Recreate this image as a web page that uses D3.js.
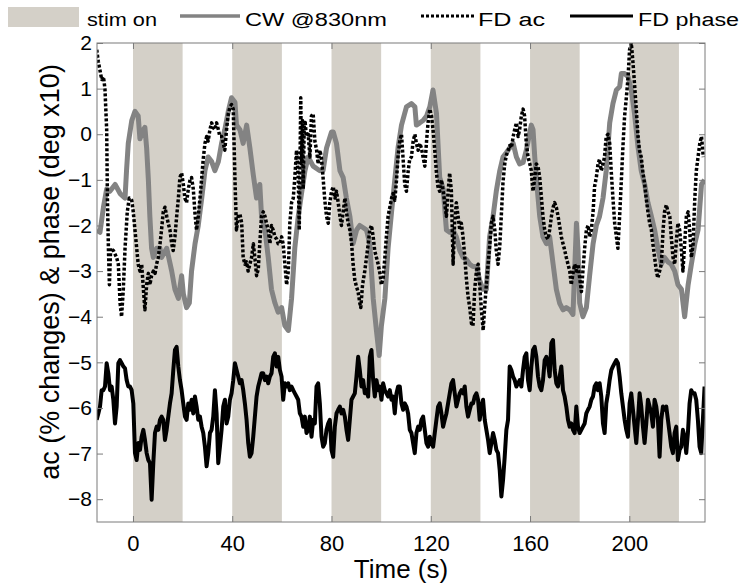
<!DOCTYPE html>
<html><head><meta charset="utf-8">
<script src="https://cdn.jsdelivr.net/npm/d3@7/dist/d3.min.js"></script>
<style>body{margin:0;background:#fff}svg{display:block}</style>
</head><body><svg id="c" width="744" height="588"></svg>
<script>
// ---------- data ----------
const stimStart = [0, 40, 80, 120, 160, 200];
const stimLength = 20;
const xTicks = [0, 40, 80, 120, 160, 200];
const yTicks = [-8, -7, -6, -5, -4, -3, -2, -1, 0, 1, 2];
const legendLabels = ["stim on", "CW @830nm", "FD ac", "FD phase"];

// CW @830nm  [time s, value]
const cwSeries = [[-14.6,-2.1],[-13.3,-2.15],[-11.9,-1.6],[-10.6,-1.2],[-9.3,-1.25],[-7.2,-1.1],[-5.2,-1.3],[-3.2,-1.4],[-2.6,-0.8],[-1.9,-0.2],[-0.5,0.3],[0.8,0.5],[2.1,0.4],[2.8,-0.1],[4.2,0.1],[4.8,0.15],[5.5,-0.3],[6.2,-1.0],[6.8,-1.8],[7.5,-2.5],[8.2,-2.7],[9.5,-2.5],[10.9,-2.5],[11.5,-2.7],[13.6,-2.5],[15.6,-3.0],[16.9,-3.4],[18.3,-3.6],[19.6,-3.1],[20.3,-3.5],[21.6,-3.8],[22.7,-3.7],[23.6,-3.0],[25,-2.4],[26.3,-2.0],[27.7,-1.4],[29,-0.8],[30.3,-0.5],[31.7,-0.6],[33,-0.8],[34.4,-0.6],[35.7,-0.2],[37,0.1],[38.4,0.5],[39.7,0.8],[41.1,0.7],[41.7,0.2],[43.1,0.1],[44.4,-0.2],[45.8,0.2],[47.1,-0.3],[48.5,-0.9],[49.8,-1.4],[51.1,-1.1],[51.8,-1.8],[53.2,-2.1],[54.5,-2.7],[55.8,-3.4],[57.2,-3.7],[58.5,-3.9],[59.9,-3.8],[61.2,-4.2],[62.6,-4.3],[63.9,-3.6],[65.2,-2.5],[66.6,-1.8],[67.9,-1.3],[69.3,-0.8],[70.6,-0.5],[72.6,-0.7],[75.3,-0.8],[76.6,-0.8],[78,-0.3],[80,0.05],[80.7,0.05],[82,-0.2],[83.4,-0.8],[84.7,-0.95],[86,-1.4],[87.4,-1.8],[88.7,-2.4],[90.1,-2.1],[91.4,-2.0],[92.8,-2.05],[94.1,-2.1],[95.4,-2.4],[96.8,-3.6],[98.1,-4.3],[99.2,-4.85],[100.1,-4.2],[101.5,-3.6],[102.8,-2.5],[104.2,-1.7],[105.5,-1.0],[106.8,-0.3],[108.2,0.2],[110.2,0.6],[112.2,0.67],[113.6,0.6],[114.2,0.2],[115.6,0.25],[116.9,0.3],[118.3,0.4],[119.6,0.6],[120.9,0.97],[122.3,0.45],[123.6,-0.95],[125,-1.2],[126.3,-2.1],[127.6,-2.15],[129,-2.1],[130.3,-2.25],[131.7,-2.55],[133,-2.7],[134.4,-2.75],[135.7,-2.85],[137,-2.9],[138.4,-2.9],[139.7,-3.2],[141,-3.4],[142.4,-3.4],[143.7,-2.25],[145.1,-1.8],[146.4,-1.25],[147.8,-0.8],[149.1,-0.5],[150.5,-0.4],[151.8,-0.3],[153.2,-0.2],[154.5,-0.5],[155.8,-0.65],[157.2,-0.62],[158.5,-0.35],[160.5,0.2],[161.2,0.1],[161.9,-0.5],[162.5,-0.95],[163.9,-1.8],[165.2,-2.25],[166.6,-2.4],[167.9,-2.25],[169.3,-2.85],[170.6,-3.4],[171.9,-3.7],[173.3,-3.85],[174.6,-3.8],[176,-3.85],[177.3,-3.95],[178.7,-1.95],[179.3,-2.5],[180,-3.7],[181.3,-4.0],[182.7,-3.8],[184,-3.1],[185.4,-2.4],[186.7,-2.0],[188,-1.8],[189.4,-1.4],[190.7,-0.8],[192.1,0.25],[193.4,0.67],[194.8,0.97],[196.1,1.04],[196.8,1.33],[198.1,1.33],[199.5,1.26],[200.8,0.97],[202.1,0.45],[203.5,-0.28],[204.8,-0.8],[206.2,-1.1],[207.5,-1.5],[208.9,-1.8],[210.2,-2.1],[211.5,-2.5],[212.9,-2.85],[214.2,-2.7],[215.6,-2.8],[216.9,-2.85],[218.3,-3.0],[219.6,-3.3],[221,-3.4],[222.3,-4.0],[223.7,-3.3],[225,-2.85],[226.4,-2.4],[227.7,-2.1],[229.1,-1.1],[230.3,-1.0]];

// FD ac  [time s, value]
const acSeries = [[-14.6,1.85],[-14.0,1.6],[-13.3,1.4],[-12.6,1.2],[-11.9,1.26],[-11.3,1.0],[-10.6,0.1],[-10.3,-1.4],[-9.9,-2.5],[-9.5,-3.3],[-9.0,-2.5],[-7.9,-2.55],[-6.6,-2.7],[-5.9,-2.85],[-5.2,-3.7],[-4.6,-4.0],[-3.9,-3.4],[-3.2,-2.5],[-2.3,-1.7],[-1.5,-1.4],[-0.5,-1.45],[0.1,-1.7],[0.8,-2.1],[1.5,-2.5],[2.1,-2.85],[2.8,-3.0],[3.5,-2.85],[4.2,-3.4],[4.8,-3.85],[5.5,-3.3],[6.2,-3.05],[6.8,-3.3],[7.5,-3.1],[8.2,-3.0],[8.9,-3.05],[9.5,-2.85],[10.2,-2.7],[10.9,-2.4],[11.5,-2.1],[12.2,-1.7],[12.9,-1.6],[13.6,-1.8],[14.2,-1.95],[14.9,-2.1],[15.6,-2.4],[16.2,-2.55],[16.9,-2.25],[17.6,-1.8],[18.3,-1.4],[18.9,-0.95],[19.6,-0.85],[20.3,-1.1],[20.9,-1.4],[21.6,-1.5],[22.3,-1.2],[23.0,-1.0],[23.6,-0.95],[24.3,-1.2],[25.0,-1.75],[25.6,-2.1],[26.3,-1.8],[27.0,-1.4],[27.7,-0.95],[28.3,-0.55],[29.0,-0.2],[29.7,-0.05],[30.3,-0.15],[31.0,0.1],[31.7,0.25],[32.3,0.15],[33.0,0.1],[33.7,0.25],[34.4,0.1],[35.0,-0.05],[35.7,-0.05],[36.4,-0.2],[37.0,-0.35],[37.7,0.1],[38.4,0.45],[39.1,0.6],[39.7,0.65],[40.4,0.55],[41.1,-1.0],[41.7,-2.1],[42.4,-1.8],[43.1,-1.75],[43.8,-1.95],[44.4,-2.7],[45.1,-2.85],[45.8,-2.8],[46.4,-3.0],[47.1,-2.85],[47.8,-2.7],[48.5,-2.4],[49.1,-2.7],[49.8,-3.1],[50.5,-2.95],[51.1,-2.4],[51.8,-1.8],[52.5,-1.7],[53.2,-1.8],[53.8,-1.95],[54.5,-2.1],[55.2,-2.4],[55.8,-2.0],[56.5,-2.1],[57.2,-2.25],[57.9,-2.3],[58.5,-2.4],[59.2,-2.4],[59.9,-2.25],[60.5,-2.4],[61.2,-2.85],[61.9,-3.3],[62.6,-3.0],[63.2,-1.95],[63.9,-1.5],[64.6,-1.4],[65.2,-0.95],[65.9,-0.35],[66.6,-0.95],[67.0,-2.1],[67.6,0.8],[67.9,-0.65],[68.3,0.3],[68.6,-1.2],[69.0,0.2],[69.3,0.3],[69.9,-0.05],[70.6,0.0],[71.3,-0.5],[71.9,0.4],[72.6,0.45],[73.3,-0.15],[74.0,-0.35],[74.6,-0.65],[75.3,-0.35],[75.9,-0.5],[76.6,-0.95],[77.3,-1.45],[78.0,-1.8],[78.7,-1.95],[79.3,-1.5],[80.0,-1.25],[80.7,-1.15],[81.4,-1.4],[82.0,-1.25],[82.7,-1.5],[83.4,-1.8],[84.0,-2.0],[84.7,-1.7],[85.4,-1.4],[86.0,-1.7],[86.7,-1.95],[87.4,-2.1],[88.1,-2.4],[88.7,-2.85],[89.4,-3.2],[90.1,-3.35],[90.7,-3.45],[91.4,-3.7],[91.8,-3.8],[92.5,-3.3],[93.4,-3.0],[94.1,-2.7],[94.8,-2.4],[95.4,-2.1],[96.1,-2.0],[96.8,-2.25],[97.4,-2.55],[98.1,-2.7],[98.8,-2.85],[99.5,-3.05],[100.1,-3.3],[100.8,-3.15],[101.5,-2.7],[102.1,-2.25],[102.8,-1.8],[103.5,-1.6],[104.2,-1.4],[104.8,-1.3],[105.5,-1.45],[106.2,-1.0],[106.8,-0.5],[107.5,-0.15],[108.2,0.0],[108.8,-0.5],[109.5,-1.1],[110.2,-1.25],[110.9,-0.8],[111.5,-0.55],[112.2,-0.5],[112.9,-0.15],[113.6,0.0],[114.2,-0.2],[114.9,-0.35],[115.6,-0.2],[116.2,-0.3],[116.9,-0.5],[117.6,-0.7],[118.3,-0.15],[118.9,0.25],[119.6,0.55],[120.3,0.4],[120.9,0.1],[121.6,-0.35],[122.3,-0.85],[122.9,-1.15],[123.6,-1.25],[124.3,-1.0],[125.0,-1.25],[125.6,-1.5],[126.3,-1.8],[127.0,-1.25],[127.6,-0.85],[128.3,-1.25],[129.0,-2.85],[129.6,-1.95],[130.3,-1.5],[131.0,-1.8],[131.7,-2.1],[132.3,-1.95],[133.0,-2.25],[133.7,-2.7],[134.4,-3.2],[135.0,-3.55],[135.7,-3.8],[136.4,-4.15],[137.0,-4.2],[137.7,-3.4],[138.4,-3.0],[139.1,-2.85],[139.7,-3.3],[140.4,-3.85],[141.1,-4.3],[141.7,-3.8],[142.4,-3.3],[143.1,-2.85],[143.8,-2.4],[144.4,-1.95],[145.1,-1.8],[145.8,-2.1],[146.4,-2.55],[147.1,-2.85],[147.8,-2.45],[148.5,-1.7],[149.1,-1.05],[149.8,-0.65],[150.5,-0.45],[151.2,-0.35],[151.8,-0.25],[152.5,-0.3],[153.2,-0.05],[153.8,0.1],[154.5,0.25],[155.2,-0.05],[155.8,0.1],[156.5,0.4],[157.2,0.55],[157.8,0.4],[158.5,-0.2],[159.2,-0.5],[159.9,-0.65],[160.5,-0.8],[161.2,-1.25],[161.9,-0.95],[162.5,-0.65],[163.2,-0.7],[163.9,-0.95],[164.6,-1.4],[165.2,-1.8],[165.9,-2.1],[166.6,-2.25],[167.2,-2.3],[167.9,-2.1],[168.6,-1.8],[169.3,-1.6],[169.9,-1.5],[170.6,-1.6],[171.3,-1.8],[171.9,-2.0],[172.6,-2.25],[173.3,-2.4],[174.0,-2.55],[174.6,-2.7],[175.3,-2.85],[176.0,-3.0],[176.6,-3.3],[177.3,-3.05],[178.0,-2.85],[178.7,-3.0],[179.3,-2.85],[180.0,-3.15],[180.7,-3.45],[181.3,-3.0],[182.0,-2.5],[182.7,-2.1],[183.4,-2.0],[184.0,-2.25],[184.7,-2.1],[185.4,-1.7],[186.0,-1.15],[186.7,-0.95],[187.4,-0.65],[188.0,-0.55],[188.7,-0.8],[189.4,-0.65],[190.0,-0.5],[190.7,-0.05],[191.4,0.0],[192.1,-0.2],[192.7,-0.8],[193.4,-1.4],[194.1,-1.95],[194.8,-2.25],[195.4,-2.5],[196.1,-1.8],[196.8,-1.0],[197.4,-0.3],[198.1,0.4],[198.8,0.8],[199.5,1.25],[200.1,1.85],[200.8,2.0],[201.5,1.55],[202.1,1.1],[202.8,0.55],[203.5,-0.05],[204.1,-0.35],[204.8,-0.5],[205.5,-0.85],[206.2,-1.1],[206.8,-1.4],[207.5,-1.7],[208.2,-1.95],[208.9,-2.1],[209.5,-2.4],[210.2,-2.7],[210.9,-3.0],[211.5,-3.15],[212.2,-3.0],[212.9,-2.85],[213.6,-2.1],[214.2,-1.7],[214.9,-1.55],[215.6,-1.7],[216.3,-1.8],[216.9,-2.25],[217.6,-2.7],[218.3,-2.85],[219.0,-2.3],[219.6,-1.95],[220.3,-2.1],[221.0,-2.55],[221.6,-3.0],[222.3,-2.4],[223.0,-1.8],[223.7,-1.7],[224.3,-2.1],[225.0,-2.7],[225.7,-2.4],[226.4,-1.4],[227.0,-0.8],[227.7,-0.5],[228.4,-0.2],[229.1,-0.05],[229.8,-0.5]];

// FD phase: uniformly sampled from phaseStart every phaseStep seconds
const phaseStart = -14.63;
const phaseStep = 0.6711;
const phaseValue = [-6.26,-6.12,-5.97,-5.61,-5.61,-5.53,-5.02,-5.24,-5.61,-5.53,-5.82,-6.34,-5.97,-5.02,-4.95,-5.02,-5.09,-5.13,-5.39,-5.53,-5.53,-5.61,-5.90,-6.99,-7.14,-6.77,-6.92,-6.63,-6.48,-6.70,-6.99,-7.14,-7.21,-8.01,-7.21,-6.55,-6.41,-6.48,-6.26,-6.19,-6.26,-6.70,-6.48,-6.19,-5.90,-5.68,-5.17,-4.73,-4.66,-5.09,-5.39,-5.61,-5.90,-6.19,-6.26,-5.90,-6.04,-5.82,-6.12,-5.75,-5.97,-6.26,-6.19,-6.41,-6.55,-6.85,-7.28,-6.99,-6.55,-6.48,-6.19,-5.61,-6.12,-7.21,-6.85,-6.48,-5.97,-5.82,-6.34,-6.19,-5.82,-5.68,-5.39,-5.02,-5.17,-5.31,-5.46,-5.39,-5.61,-5.90,-6.26,-6.77,-7.07,-6.99,-6.63,-6.19,-5.75,-5.53,-5.39,-5.24,-5.24,-5.39,-5.31,-5.46,-5.31,-5.24,-4.88,-4.80,-5.09,-4.88,-5.17,-5.31,-5.82,-5.46,-5.53,-5.46,-5.61,-5.53,-5.61,-5.68,-5.75,-5.82,-6.12,-6.19,-6.41,-6.19,-6.55,-6.48,-6.19,-6.63,-6.26,-6.34,-5.53,-5.46,-5.90,-6.63,-6.85,-6.77,-6.48,-6.34,-6.26,-6.92,-7.07,-6.41,-6.12,-6.04,-5.97,-6.12,-6.04,-6.19,-6.48,-6.70,-6.26,-5.82,-5.75,-5.68,-5.31,-4.88,-5.17,-5.53,-5.39,-5.68,-5.61,-5.75,-4.88,-4.73,-5.39,-5.75,-5.39,-5.61,-5.53,-5.82,-5.46,-5.61,-5.68,-5.75,-5.61,-5.82,-5.75,-6.12,-5.68,-5.53,-5.53,-5.90,-6.04,-5.90,-5.97,-6.12,
-6.48,-6.55,-6.77,-6.99,-6.55,-6.41,-6.48,-6.26,-6.19,-6.48,-6.77,-6.85,-6.63,-6.77,-6.85,-6.55,-6.26,-5.97,-5.90,-6.12,-6.41,-6.26,-6.12,-5.90,-5.68,-5.46,-5.39,-5.68,-5.97,-5.82,-5.68,-5.61,-5.68,-5.53,-5.97,-6.19,-6.04,-5.90,-5.90,-5.75,-5.68,-5.82,-6.26,-5.97,-5.82,-6.26,-6.48,-6.70,-6.99,-6.77,-6.55,-6.70,-6.92,-6.99,-7.36,-7.94,-7.58,-7.07,-6.48,-6.26,-5.09,-5.17,-5.31,-5.39,-5.53,-5.46,-5.39,-5.53,-5.17,-4.88,-4.80,-5.39,-5.61,-5.09,-4.73,-4.66,-4.88,-5.31,-5.53,-5.61,-5.39,-4.95,-4.88,-5.02,-5.31,-4.58,-4.51,-5.17,-5.46,-5.53,-5.31,-5.09,-5.61,-5.75,-5.97,-6.26,-6.41,-6.34,-6.48,-6.55,-5.97,-6.41,-6.55,-6.48,-6.41,-6.34,-6.12,-6.04,-5.97,-5.82,-5.75,-5.53,-5.46,-5.61,-5.46,-5.75,-6.34,-6.55,-5.90,-5.68,-5.39,-5.17,-5.09,-5.02,-4.95,-5.02,-5.31,-5.68,-5.97,-6.26,-6.48,-6.63,-5.90,-5.68,-6.04,-6.41,-6.77,-6.26,-5.68,-5.97,-6.41,-6.77,-6.34,-5.82,-5.97,-6.12,-6.41,-5.82,-5.97,-6.26,-7.07,-6.26,-5.97,-6.04,-5.97,-6.26,-6.55,-6.85,-6.99,-6.55,-6.41,-7.14,-6.92,-6.85,-6.48,-6.63,-6.99,-6.55,-5.90,-5.61,-5.68,-5.68,-5.82,-6.26,-6.85,-6.99,-6.26,-5.53];

// ---------- drawing ----------
const FONT = "Arial, 'Liberation Sans', Helvetica, sans-serif";
const bandColor = "#d4d0c8";
const axisColor = "#7a7a7a";
const box = {left: 97, right: 705, top: 43, bottom: 522};

const x = d3.scaleLinear().domain([-14.5, 230.5]).range([box.left, box.right]);
const y = d3.scaleLinear().domain([-8.5, 2]).range([box.bottom, box.top]);

const svg = d3.select("#c").style("font-family", FONT);
svg.append("rect").attr("width", 744).attr("height", 588).attr("fill", "#fff");

svg.append("defs").append("clipPath").attr("id", "plotClip")
  .append("rect").attr("x", box.left).attr("y", box.top)
  .attr("width", box.right - box.left).attr("height", box.bottom - box.top);

// stimulation bands
svg.append("g").selectAll("rect").data(stimStart).join("rect")
  .attr("x", d => x(d)).attr("y", box.top)
  .attr("width", d => x(d + stimLength) - x(d))
  .attr("height", box.bottom - box.top)
  .attr("fill", bandColor);

const line = d3.line().x(d => x(d[0])).y(d => y(d[1]));
const plot = svg.append("g").attr("clip-path", "url(#plotClip)");

plot.append("path").datum(cwSeries).attr("d", line)
  .attr("fill", "none").attr("stroke", "#838383").attr("stroke-width", 5)
  .attr("stroke-linejoin", "round");

plot.append("path").datum(acSeries).attr("d", line)
  .attr("fill", "none").attr("stroke", "#000").attr("stroke-width", 3.5)
  .attr("stroke-dasharray", "3,2").attr("stroke-linejoin", "round");

const phaseSeries = phaseValue.map((v, i) => [phaseStart + i * phaseStep, v]);
plot.append("path").datum(phaseSeries).attr("d", line)
  .attr("fill", "none").attr("stroke", "#000").attr("stroke-width", 4)
  .attr("stroke-linejoin", "round");

// axes (inward ticks, box on)
function styleAxis(g) {
  g.select(".domain").remove();
  g.selectAll(".tick line").attr("stroke", axisColor);
  g.selectAll(".tick text").attr("fill", "#000").attr("font-family", FONT);
}
svg.append("g").attr("transform", `translate(0,${box.bottom})`)
  .call(d3.axisBottom(x).tickValues(xTicks).tickSize(-6).tickPadding(13).tickFormat(d3.format("d")))
  .call(styleAxis).call(g => g.selectAll(".tick text").attr("font-size", 22));
svg.append("g").attr("transform", `translate(0,${box.top})`)
  .call(d3.axisTop(x).tickValues(xTicks).tickSize(-6).tickFormat(""))
  .call(styleAxis);
svg.append("g").attr("transform", `translate(${box.left},0)`)
  .call(d3.axisLeft(y).tickValues(yTicks).tickSize(-6).tickPadding(5).tickFormat(d3.format("d")))
  .call(styleAxis).call(g => g.selectAll(".tick text").attr("font-size", 21));
svg.append("g").attr("transform", `translate(${box.right},0)`)
  .call(d3.axisRight(y).tickValues(yTicks).tickSize(-6).tickFormat(""))
  .call(styleAxis);

svg.append("rect").attr("x", box.left).attr("y", box.top)
  .attr("width", box.right - box.left).attr("height", box.bottom - box.top)
  .attr("fill", "none").attr("stroke", axisColor).attr("stroke-width", 1);

// axis titles
svg.append("text").attr("x", 401).attr("y", 578).attr("text-anchor", "middle")
  .attr("font-size", 26).attr("fill", "#000").text("Time (s)");
svg.append("text").attr("transform", "translate(59,272) rotate(-90)")
  .attr("text-anchor", "middle").attr("font-size", 27).attr("fill", "#000")
  .text("ac (% changes) & phase (deg x10)");

// legend
const lg = svg.append("g");
lg.append("rect").attr("x", 8).attr("y", 7).attr("width", 71).attr("height", 20).attr("fill", bandColor);
lg.append("line").attr("x1", 180).attr("x2", 240).attr("y1", 16).attr("y2", 16)
  .attr("stroke", "#838383").attr("stroke-width", 3.5);
lg.append("line").attr("x1", 421).attr("x2", 474).attr("y1", 16).attr("y2", 16)
  .attr("stroke", "#000").attr("stroke-width", 3).attr("stroke-dasharray", "3,2");
lg.append("line").attr("x1", 570).attr("x2", 633).attr("y1", 16).attr("y2", 16)
  .attr("stroke", "#000").attr("stroke-width", 3);
const legendText = [
  {x: 87, w: 70}, {x: 245, w: 142}, {x: 478, w: 67}, {x: 638, w: 101}
];
lg.selectAll("text.lab").data(legendLabels).join("text").attr("class", "lab")
  .attr("x", (d, i) => legendText[i].x).attr("y", 26)
  .attr("font-size", 18).attr("fill", "#000")
  .attr("textLength", (d, i) => legendText[i].w).attr("lengthAdjust", "spacingAndGlyphs")
  .text(d => d);
</script>
</body></html>
